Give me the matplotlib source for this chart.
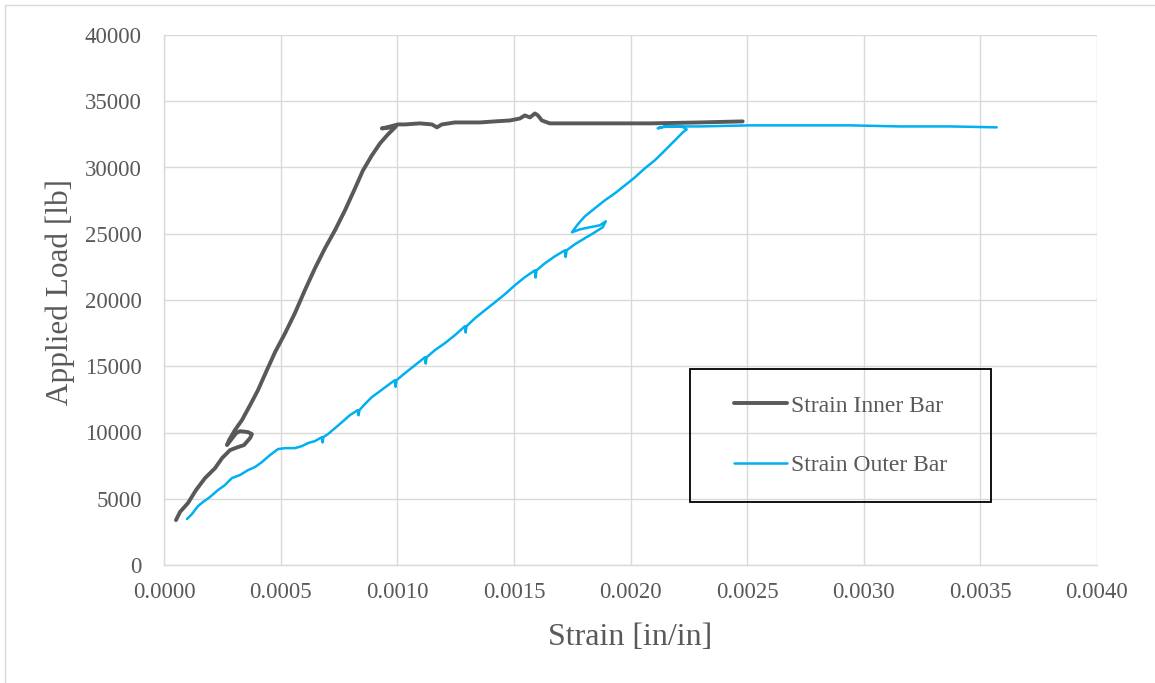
"""
Strain vs applied load for the inner and outer bars.
"""

import matplotlib
matplotlib.use("Agg")
import matplotlib.pyplot as plt
from matplotlib.patches import Rectangle

plt.rcParams["font.family"] = ["Liberation Serif", "DejaVu Serif"]

C_INNER = "#595959"
C_OUTER = "#00B0F0"
C_TEXT = "#595959"
C_GRID = "#D9D9D9"

# Strain Inner Bar
inner_strain = [
    0.0000514, 0.0000686, 0.000103, 0.000137, 0.000176, 0.000219, 0.000249,
    0.000283, 0.000317, 0.000343, 0.000369, 0.000377, 0.000360, 0.000326,
    0.000309, 0.000283, 0.000270, 0.000279, 0.000304, 0.000334, 0.000369,
    0.000403, 0.000437, 0.000476, 0.000519, 0.000561, 0.000604, 0.000647,
    0.000690, 0.000733, 0.000776, 0.000819, 0.000853, 0.000891, 0.000926,
    0.000960, 0.000986, 0.000994, 0.000977, 0.000934, 0.000960, 0.001003,
    0.001033, 0.001097, 0.001149, 0.001170, 0.001191, 0.001247, 0.001354,
    0.001419, 0.001483, 0.001526, 0.001547, 0.001569, 0.001590, 0.001603,
    0.001620, 0.001654, 0.001869, 0.002083, 0.002297, 0.002481,
]
inner_load = [
    3390, 4000, 4680, 5650, 6560, 7310, 8070,
    8670, 8900, 9050, 9580, 9880, 10030, 10100,
    9950, 9350, 9050, 9430, 10180, 10930, 12060,
    13200, 14550, 16060, 17490, 19000, 20740, 22390,
    23900, 25260, 26770, 28430, 29780, 30910, 31820,
    32500, 32950, 33100, 33030, 32950, 33050, 33250,
    33250, 33330, 33250, 33030, 33250, 33400, 33400,
    33480, 33550, 33700, 33930, 33780, 34080, 33930,
    33550, 33330, 33330, 33330, 33400, 33480,
]

# Strain Outer Bar
outer_strain = [
    0.0000986, 0.000120, 0.000146, 0.000167, 0.000197, 0.000231, 0.000261,
    0.000291, 0.000326, 0.000360, 0.000390, 0.000420, 0.000454, 0.000489,
    0.000519, 0.000561, 0.000591, 0.000617, 0.000647, 0.000677, 0.000680,
    0.000683, 0.000703, 0.000733, 0.000763, 0.000797, 0.000831, 0.000834,
    0.000838, 0.000861, 0.000891, 0.000926, 0.000960, 0.000990, 0.000993,
    0.000997, 0.001033, 0.001076, 0.001119, 0.001122, 0.001126, 0.001161,
    0.001204, 0.001247, 0.001290, 0.001293, 0.001297, 0.001333, 0.001376,
    0.001419, 0.001461, 0.001504, 0.001547, 0.001590, 0.001593, 0.001597,
    0.001633, 0.001676, 0.001719, 0.001722, 0.001726, 0.001761, 0.001804,
    0.001847, 0.001881, 0.001894, 0.001869, 0.001826, 0.001783, 0.001749,
    0.001774, 0.001804, 0.001847, 0.001890, 0.001933, 0.001976, 0.002019,
    0.002061, 0.002104, 0.002139, 0.002169, 0.002199, 0.002224, 0.002241,
    0.002220, 0.002169, 0.002126, 0.002117, 0.002147, 0.002297, 0.002511,
    0.002726, 0.002940, 0.003154, 0.003369, 0.003570,
]
outer_load = [
    3470, 3850, 4450, 4750, 5130, 5650, 6030,
    6560, 6790, 7160, 7390, 7770, 8290, 8750,
    8820, 8820, 8970, 9200, 9350, 9650, 9250,
    9650, 9880, 10330, 10780, 11310, 11690, 11300,
    11690, 12140, 12670, 13120, 13570, 13950, 13450,
    13950, 14480, 15080, 15680, 15200, 15680, 16210,
    16740, 17340, 18020, 17550, 18020, 18620, 19230,
    19830, 20430, 21110, 21720, 22240, 21700, 22240,
    22770, 23300, 23750, 23250, 23750, 24200, 24660,
    25110, 25490, 25940, 25640, 25490, 25330, 25110,
    25710, 26310, 26920, 27520, 28050, 28650, 29260,
    29930, 30540, 31140, 31670, 32200, 32650, 32870,
    33100, 33100, 33030, 32950, 33100, 33100, 33180,
    33180, 33180, 33100, 33100, 33030,
]

x_ticks = [0.0000, 0.0005, 0.0010, 0.0015, 0.0020, 0.0025, 0.0030, 0.0035, 0.0040]
y_ticks = [0, 5000, 10000, 15000, 20000, 25000, 30000, 35000, 40000]

fig = plt.figure(figsize=(11.55, 6.83), dpi=100)
ax = fig.add_axes([164 / 1155, 118 / 683, 933 / 1155, 530 / 683])

# light chart-area border (top and left edges visible)
fig.patches.append(Rectangle((5 / 1155, -0.05), 1.2, 1 - 5 / 683 + 0.05,
                             transform=fig.transFigure, fill=False,
                             edgecolor=C_GRID, linewidth=1.0))

ax.plot(inner_strain, inner_load, color=C_INNER, lw=2.8,
        solid_joinstyle="round", solid_capstyle="round", label="Strain Inner Bar", zorder=3)
ax.plot(outer_strain, outer_load, color=C_OUTER, lw=1.8,
        solid_joinstyle="round", solid_capstyle="round", label="Strain Outer Bar", zorder=4)

ax.set_xlim(0, 0.004)
ax.set_ylim(0, 40000)
ax.set_xticks(x_ticks)
ax.set_xticklabels([f"{v:.4f}" for v in x_ticks])
ax.set_yticks(y_ticks)
ax.set_yticklabels([str(v) for v in y_ticks])
ax.tick_params(length=0, labelsize=16.5, labelcolor=C_TEXT)
ax.tick_params(axis="y", pad=16)
ax.tick_params(axis="x", pad=12)

ax.grid(True, color=C_GRID, lw=1.0)
ax.set_axisbelow(True)
for side in ["top", "right"]:
    ax.spines[side].set_visible(False)
for side in ["left", "bottom"]:
    ax.spines[side].set_color(C_GRID)
    ax.spines[side].set_linewidth(1.0)

ax.set_xlabel("Strain [in/in]", fontsize=23, color=C_TEXT)
ax.xaxis.set_label_coords(0.5, -0.11)
ax.set_ylabel("Applied Load [lb]", fontsize=22.5, color=C_TEXT)
ax.yaxis.set_label_coords(-0.095, 0.515)

# legend: black frame drawn separately, transparent inside
x0, y0 = (690 - 164) / 933, (565 - 502) / 530
w, h = (991 - 690) / 933, (502 - 369) / 530
ax.add_patch(Rectangle((x0, y0), w, h, transform=ax.transAxes, fill=False,
                       edgecolor="black", linewidth=1.3, zorder=5))
leg = ax.legend(loc="center", bbox_to_anchor=(x0 + w / 2, y0 + h / 2),
                frameon=False, fontsize=17, handlelength=2.25, handletextpad=0.2,
                labelspacing=1.6, borderaxespad=0)
for t in leg.get_texts():
    t.set_color(C_TEXT)

fig.savefig("out.png", dpi=100)
